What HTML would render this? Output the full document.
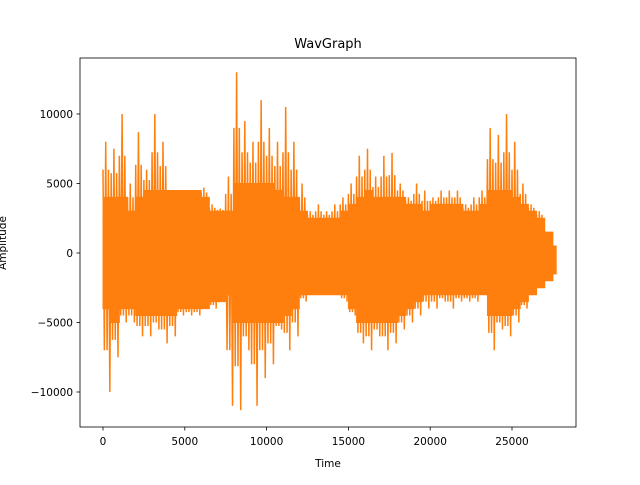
<!DOCTYPE html>
<html><head><meta charset="utf-8"><style>
body{margin:0;background:#fff;}
svg text{font-family:"DejaVu Sans","Liberation Sans",sans-serif;font-size:10.5px;fill:#000;}
</style></head><body>
<svg id="chart" width="640" height="480" xmlns="http://www.w3.org/2000/svg">
<rect width="640" height="480" fill="#fff"/>
<g id="plot"></g>
<rect x="80" y="58" width="496" height="369" fill="none" stroke="#000" stroke-width="0.8"/>
<g id="axes"></g>
<text x="328" y="48" text-anchor="middle" style="font-size:13px">WavGraph</text>
<text x="328" y="467" text-anchor="middle">Time</text>
<text transform="translate(6,243) rotate(-90)" text-anchor="middle">Amplitude</text>
</svg>
<script>
const binStarts=[0,500,1000,1500,2000,2500,3000,3500,4000,4500,5000,5500,6000,6500,7000,7500,8000,8500,9000,9500,10000,10500,11000,11500,12000,12500,13000,13500,14000,14500,15000,15500,16000,16500,17000,17500,18000,18500,19000,19500,20000,20500,21000,21500,22000,22500,23000,23500,24000,24500,25000,25500,26000,26500,27000,27500];
const maxVals=[8000,7500,10000,5000,8700,6000,10000,8000,4500,4500,4500,4000,4700,3500,3200,5500,13000,9500,8000,11000,9000,8000,10500,8000,5000,3000,3500,3000,3500,4000,5000,7000,7500,5500,7000,7200,5000,4000,5000,4500,4000,4500,4500,4500,3500,4000,4500,9000,8500,10000,8000,5000,3500,3000,1500,500];
const minVals=[-10000,-7500,-5000,-5000,-6000,-6000,-5500,-6500,-6000,-4500,-4500,-4500,-4000,-4000,-3500,-11000,-11300,-7000,-11000,-9000,-8000,-5500,-7000,-6000,-3500,-3000,-3000,-3000,-3000,-3500,-4500,-6500,-7000,-6000,-7000,-6500,-5500,-5000,-4500,-4000,-4000,-3500,-4000,-3500,-3500,-3500,-3000,-7000,-5500,-6000,-5000,-4000,-3000,-2500,-2000,-1500];
const coreMax=[4000,4000,4000,3000,4000,4500,4500,4500,4500,4500,4500,4500,4000,3000,3000,3000,5000,5000,5000,5000,5000,4500,4000,4000,3000,2500,2500,2500,2500,3000,3500,4000,4500,4000,4000,4000,4000,3500,3500,3000,3500,3500,3500,3500,3000,3000,3500,4500,4500,4500,4000,3500,3000,2500,1500,500];
const coreMin=[-4000,-5000,-4000,-4000,-4500,-4500,-4500,-4500,-4500,-4000,-4000,-4000,-4000,-3500,-3500,-3000,-5000,-5000,-5000,-5000,-5000,-5000,-4500,-4000,-3000,-3000,-3000,-3000,-3000,-3000,-4000,-5000,-5000,-5000,-5000,-5000,-4500,-4000,-3500,-3000,-3000,-3000,-3000,-3000,-3000,-3000,-3000,-4500,-4500,-4500,-4000,-3500,-3000,-2500,-2000,-1500];
const xTicks=[0,5000,10000,15000,20000,25000];
const yTicks=[-10000,-5000,0,5000,10000];
const binWidth=500, dataEnd=27700;
const xs=v=>103+v*0.016360;
const ys=v=>253-v*0.013900;
const NS="http://www.w3.org/2000/svg";
const plotG=document.getElementById('plot'), axesG=document.getElementById('axes');
let upperPts=[],lowerPts=[];
for(let i=0;i<binStarts.length;i++){
  const w=Math.min(binWidth,dataEnd-binStarts[i]);
  upperPts.push(xs(binStarts[i]).toFixed(2)+','+ys(coreMax[i]).toFixed(2));
  upperPts.push(xs(binStarts[i]+w).toFixed(2)+','+ys(coreMax[i]).toFixed(2));
  lowerPts.unshift(xs(binStarts[i]).toFixed(2)+','+ys(coreMin[i]).toFixed(2));
  lowerPts.unshift(xs(binStarts[i]+w).toFixed(2)+','+ys(coreMin[i]).toFixed(2));
}
const core=document.createElementNS(NS,'polygon');


core.setAttribute('points',upperPts.concat(lowerPts).join(' '));
core.setAttribute('fill','#ff7f0e');core.setAttribute('stroke','#ff7f0e');core.setAttribute('stroke-width','1');
plotG.appendChild(core);
let pts=[];
for(let i=0;i<binStarts.length;i++){
  const w=Math.min(binWidth,dataEnd-binStarts[i]);
  const n=3;
  for(let k=0;k<n;k++){
    const xv=binStarts[i]+w*k/n;
    const hi=k===1?maxVals[i]:(maxVals[i]+coreMax[i])/2;
    const lo=k===2?minVals[i]:(minVals[i]+coreMin[i])/2;
    pts.push(xs(xv).toFixed(2)+','+ys(hi).toFixed(2));
    pts.push(xs(xv+w/(2*n)).toFixed(2)+','+ys(lo).toFixed(2));
  }
}
const pl=document.createElementNS(NS,'polyline');


pl.setAttribute('points',pts.join(' '));
pl.setAttribute('fill','none');pl.setAttribute('stroke','#ff7f0e');pl.setAttribute('stroke-width','1.5');
plotG.appendChild(pl);
xTicks.forEach(t=>{
  const l=document.createElementNS(NS,'line');
  
  
  l.setAttribute('x1',xs(t));l.setAttribute('x2',xs(t));l.setAttribute('y1',427);l.setAttribute('y2',430.5);l.setAttribute('stroke','#000');l.setAttribute('stroke-width','0.8');
  axesG.appendChild(l);
  const tx=document.createElementNS(NS,'text');
  
  
  tx.setAttribute('x',xs(t));tx.setAttribute('y',445);tx.setAttribute('text-anchor','middle');tx.textContent=t;
  axesG.appendChild(tx);
});
yTicks.forEach(t=>{
  const l=document.createElementNS(NS,'line');
  
  
  l.setAttribute('x1',76.5);l.setAttribute('x2',80);l.setAttribute('y1',ys(t));l.setAttribute('y2',ys(t));l.setAttribute('stroke','#000');l.setAttribute('stroke-width','0.8');
  axesG.appendChild(l);
  const tx=document.createElementNS(NS,'text');
  
  
  tx.setAttribute('x',73);tx.setAttribute('y',ys(t)+4);tx.setAttribute('text-anchor','end');tx.textContent=(t<0?'\u2212'+(-t):t);
  axesG.appendChild(tx);
});
</script>
</body></html>
